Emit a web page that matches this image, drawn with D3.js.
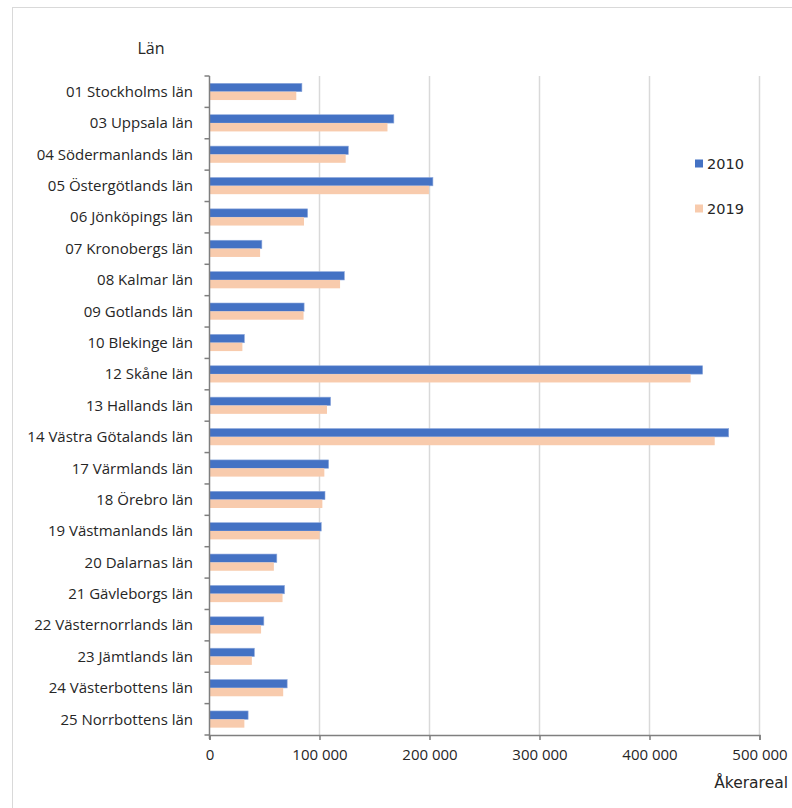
<!DOCTYPE html>
<html>
<head>
<meta charset="utf-8">
<script src="https://cdn.jsdelivr.net/npm/d3@7"></script>
<style>
  html, body { margin: 0; padding: 0; background: #fff; }
  svg { display: block; }
  .cat { font-family: "Open Sans", Lato, sans-serif; font-size: 15px; fill: #262626; }
  .tick text { font-family: "Open Sans", Lato, sans-serif; font-size: 15px; fill: #262626; }
  .leg { font-family: "DejaVu Sans", sans-serif; font-size: 14.5px; fill: #262626; }
</style>
</head>
<body>
<script>
// Åkerareal per län, 2010 och 2019 (hektar)
const categories = [
  "01 Stockholms län", "03 Uppsala län", "04 Södermanlands län", "05 Östergötlands län",
  "06 Jönköpings län", "07 Kronobergs län", "08 Kalmar län", "09 Gotlands län",
  "10 Blekinge län", "12 Skåne län", "13 Hallands län", "14 Västra Götalands län",
  "17 Värmlands län", "18 Örebro län", "19 Västmanlands län", "20 Dalarnas län",
  "21 Gävleborgs län", "22 Västernorrlands län", "23 Jämtlands län",
  "24 Västerbottens län", "25 Norrbottens län"
];
const values2010 = [
  84000, 167600, 126200, 203100, 89200, 47600, 122600, 86000, 31700, 448300, 110100,
  472000, 108300, 105000, 101600, 61200, 68200, 49400, 40800, 70600, 35100
];
const values2019 = [
  78900, 161800, 123800, 199500, 85900, 46000, 118700, 85500, 29900, 437400, 106800,
  459300, 104400, 102600, 100100, 58500, 66400, 46900, 38500, 67000, 31700
];
const seriesNames = ["2010", "2019"];
const seriesColors = ["#4472C4", "#F8CBAD"];
const xTicks = [0, 100000, 200000, 300000, 400000, 500000];
const xMax = 500000;
const yTitle = "Län";
const xTitle = "Åkerareal";

const W = 792, H = 808;
const svg = d3.select("body").append("svg").attr("width", W).attr("height", H);

// chart frame
svg.append("rect")
  .attr("x", 12.5).attr("y", 7.5)
  .attr("width", W + 10).attr("height", H + 10)
  .attr("fill", "none").attr("stroke", "#d9d9d9").attr("stroke-width", 1);

const plotLeft = 209.5, plotRight = 759.5, plotTop = 76, plotBottom = 735;

const x = d3.scaleLinear().domain([0, xMax]).range([plotLeft, plotRight]);
const y = d3.scaleBand().domain(categories).range([plotTop, plotBottom]).paddingInner(0).paddingOuter(0);
const ySub = d3.scaleBand().domain(seriesNames).range([0, y.step()]).paddingInner(0).paddingOuter(0.88);

// vertical gridlines
svg.append("g")
  .selectAll("line")
  .data(xTicks.filter(d => d > 0))
  .join("line")
  .attr("x1", d => x(d)).attr("x2", d => x(d))
  .attr("y1", plotTop).attr("y2", plotBottom)
  .attr("stroke", "#d9d9d9").attr("stroke-width", 1.5);

// bars
const rows = categories.map((c, i) => ({ c, vals: [values2010[i], values2019[i]] }));
const groups = svg.append("g").selectAll("g")
  .data(rows)
  .join("g")
  .attr("transform", d => `translate(0,${y(d.c)})`);

groups.selectAll("rect")
  .data(d => d.vals.map((v, j) => ({ v, s: seriesNames[j], col: seriesColors[j] })))
  .join("rect")
  .attr("x", x(0))
  .attr("y", d => ySub(d.s))
  .attr("width", d => x(d.v) - x(0))
  .attr("height", ySub.bandwidth())
  .attr("fill", d => d.col)
  .attr("stroke", d => d.s === "2010" ? "#8fa9dc" : "none")
  .attr("stroke-width", 0.6);

// y axis: line with ticks at band boundaries
const yAxisG = svg.append("g");
yAxisG.append("line")
  .attr("x1", plotLeft).attr("x2", plotLeft).attr("y1", plotTop).attr("y2", plotBottom + 4)
  .attr("stroke", "#7f7f7f").attr("stroke-width", 1.5);
const bounds = categories.map(c => y(c)).concat([plotBottom]);
yAxisG.selectAll("line.tk")
  .data(bounds)
  .join("line")
  .attr("class", "tk")
  .attr("x1", plotLeft - 5).attr("x2", plotLeft)
  .attr("y1", d => d).attr("y2", d => d)
  .attr("stroke", "#7f7f7f").attr("stroke-width", 1.5);

// category labels
svg.append("g").selectAll("text")
  .data(categories)
  .join("text")
  .attr("class", "cat")
  .attr("x", 193)
  .attr("y", d => y(d) + y.step() / 2)
  .attr("dy", "0.35em")
  .attr("text-anchor", "end")
  .text(d => d);

// x axis
const xAxis = d3.axisBottom(x).tickValues(xTicks).tickSize(5).tickPadding(9)
  .tickFormat(d => d === 0 ? "0" : d3.format(",")(d).replace(/,/g, " "));
const xg = svg.append("g").attr("transform", `translate(0,${plotBottom})`).call(xAxis);
xg.select(".domain").attr("stroke", "#7f7f7f").attr("stroke-width", 1.5);
xg.selectAll(".tick line").attr("stroke", "#7f7f7f").attr("stroke-width", 1.5);

// titles
svg.append("text").attr("class", "cat")
  .style("font-size", "16px")
  .attr("x", 151).attr("y", 48).attr("dy", "0.35em")
  .attr("text-anchor", "middle").text(yTitle);
svg.append("text").attr("class", "leg")
  .style("font-size", "15.5px")
  .attr("x", 788).attr("y", 783).attr("dy", "0.35em")
  .attr("text-anchor", "end").text(xTitle);

// legend
const legY = [163.5, 208.5];
const leg = svg.append("g").selectAll("g")
  .data(seriesNames)
  .join("g")
  .attr("transform", (d, i) => `translate(695,${legY[i]})`);
leg.append("rect")
  .attr("x", 0).attr("y", -4).attr("width", 8).attr("height", 8)
  .attr("fill", (d, i) => seriesColors[i]);
leg.append("text").attr("class", "leg")
  .attr("x", 12).attr("y", 0).attr("dy", "0.35em")
  .text(d => d);
</script>
</body>
</html>
